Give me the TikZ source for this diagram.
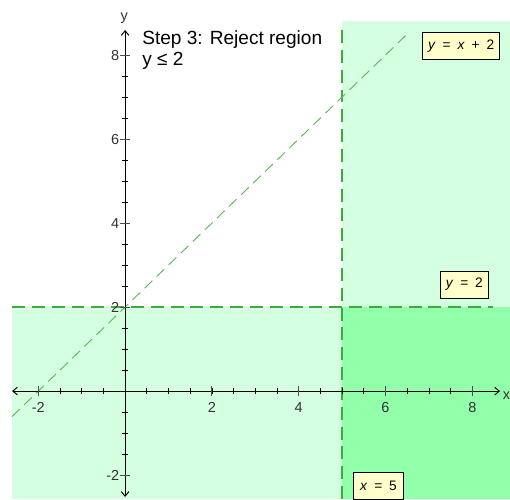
\documentclass[tikz,border=0pt]{standalone}
\usepackage{fontspec}
\setmainfont{Liberation Sans}
\usetikzlibrary{arrows.meta}
\definecolor{shadelight}{RGB}{212,255,224}
\definecolor{shadedark}{RGB}{146,255,170}
\definecolor{linegreen}{RGB}{60,170,60}
\definecolor{boxyellow}{RGB}{255,255,204}
\tikzset{
  bound/.style={linegreen, line width=1pt, dash pattern=on 8.5pt off 4.5pt},
  axis/.style={line width=0.65pt, {Straight Barb[length=3pt,width=5pt]}-{Straight Barb[length=3pt,width=5pt]}},
  eqbox/.style={draw, line width=0.6pt, fill=boxyellow, inner sep=0pt, minimum height=0.62cm, font=\fontsize{9}{11}\selectfont},
  ticklab/.style={inner sep=0pt, text=black!80, font=\fontsize{9.5}{11}\selectfont},
  titletext/.style={inner sep=0pt, anchor=base west, font=\fontsize{12.5}{15}\selectfont}
}
\begin{document}
\begin{tikzpicture}[x=1cm, y=0.968cm]
\useasboundingbox (-2.883,-2.571) rectangle (8.869,9.31);

% shaded regions
\fill[shadelight] (-2.606,-2.571) rectangle (8.869,2);
\fill[shadelight] (5,2) rectangle (8.869,8.81);
\fill[shadedark] (5,-2.571) rectangle (8.869,2);

% boundary lines
\draw[bound] (-2.606,2) -- (8.477,2);
\draw[bound] (5,8.595) -- (5,-2.571);
\draw[linegreen!85, line width=0.6pt, dash pattern=on 7pt off 4pt] (-2.606,-0.606) -- (6.5,8.5);

% axes
\draw[axis] (-2.606,0) -- (8.64,0);
\draw[axis] (0,-2.52) -- (0,8.595);
\foreach \t in {-4,...,16} {
  \ifnum\t=0\else
    \draw[line width=0.5pt] (\t*0.5,0) ++(0pt,-2pt) -- ++(0pt,4pt);
  \fi
}
\foreach \t in {-4,...,16} {
  \ifnum\t=0\else
    \draw[line width=0.5pt] (0,\t*0.5) ++(-2pt,0pt) -- ++(4pt,0pt);
  \fi
}
\foreach \v [count=\i] in {-2,2,4,6,8} {
  \draw[line width=0.6pt, black!70] (\v,0) ++(0pt,-3.5pt) -- ++(0pt,7pt);
  \node[ticklab, anchor=north] (xlab\i) at (\v,-0.26) {\v};
}
\foreach \v [count=\i] in {-2,2,4,6,8} {
  \draw[line width=0.6pt, black!70] (0,\v) ++(-3.5pt,0pt) -- ++(7pt,0pt);
  \node[ticklab, anchor=east] (ylab\i) at (-0.13,\v) {\v};
}
\node[ticklab, anchor=west] (xname) at (8.7,-0.1) {x};
\node[ticklab] (yname) at (-0.02,8.88) {y};

% title
\node[titletext] (step) at (0.39,8.24) {Step 3: Reject region};
\node[titletext] (cond) at (0.39,7.76) {y ≤ 2};

% equation labels
\node[eqbox, minimum width=1.774cm] (eqline) at (7.744,8.219) {\textit{y}\enskip=\enskip\textit{x}\enskip+\enskip2};
\node[eqbox, minimum width=1.12cm] (eqhor) at (7.817,2.536) {\textit{y}\enskip=\enskip2};
\node[eqbox, minimum width=1.16cm] (eqver) at (5.839,-2.257) {\textit{x}\enskip=\enskip5};
\end{tikzpicture}
\end{document}
